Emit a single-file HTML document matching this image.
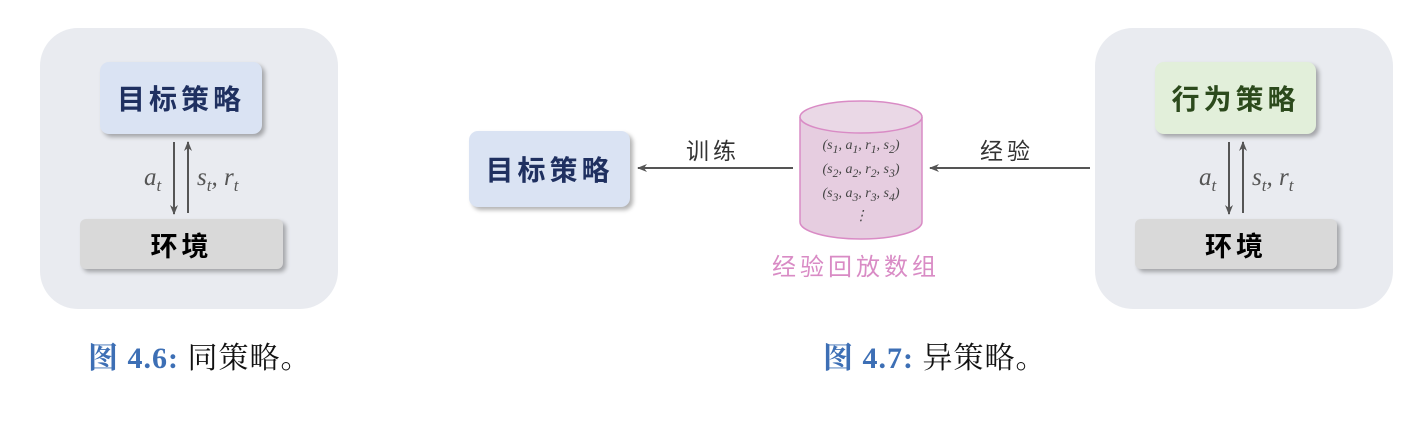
<!DOCTYPE html>
<html><head><meta charset="utf-8"><style>
body{margin:0;width:1423px;height:431px;background:#fff;position:relative;overflow:hidden;font-family:"Liberation Serif","Noto Serif CJK SC",serif}
.a{position:absolute}
.panel{position:absolute;background:#e9ebf0;border-radius:38px}
.box{position:absolute;border-radius:9px;display:flex;align-items:center;justify-content:center;font-family:"Noto Sans CJK SC",sans-serif;font-weight:bold;box-shadow:3px 3px 4px rgba(0,0,0,.3)}
.m{font-family:"Liberation Serif",serif;font-style:italic;color:#555;font-size:25px}
.cap{position:absolute;font-size:30px;color:#111;font-family:"Liberation Serif","Noto Serif CJK SC",serif;letter-spacing:1px}
.cap b{color:#3d6fb5}
</style></head><body>
<div class="panel" style="left:40px;top:28px;width:298px;height:281px"></div>
<div class="panel" style="left:1095px;top:28px;width:298px;height:281px"></div>

<div class="box" style="left:100px;top:62px;width:162px;height:72px;background:#dae3f3;color:#1f3060;font-size:28px;letter-spacing:4px">目标策略</div>
<div class="box" style="left:80px;top:219px;width:203px;height:50px;background:#d9d9d9;color:#000;font-size:27px;letter-spacing:4px;border-radius:6px">环境</div>
<div class="box" style="left:1155px;top:62px;width:161px;height:72px;background:#e2efda;color:#2c4a1c;font-size:28px;letter-spacing:4px">行为策略</div>
<div class="box" style="left:1135px;top:219px;width:202px;height:50px;background:#d9d9d9;color:#000;font-size:27px;letter-spacing:4px;border-radius:6px">环境</div>
<div class="box" style="left:469px;top:131px;width:161px;height:76px;background:#dae3f3;color:#1f3060;font-size:28px;letter-spacing:4px">目标策略</div>

<svg class="a" style="left:0;top:0" width="1423" height="431">
<defs><marker id="ar" markerWidth="10" markerHeight="8" refX="9" refY="4" orient="auto" markerUnits="userSpaceOnUse"><path d="M0,0 L10,4 L0,8 L3,4z" fill="#555"/></marker></defs>
<g stroke="#555" stroke-width="2" marker-end="url(#ar)">
<line x1="174" y1="142" x2="174" y2="214"/><line x1="188" y1="213" x2="188" y2="142"/>
<line x1="1229" y1="142" x2="1229" y2="214"/><line x1="1243" y1="213" x2="1243" y2="142"/>
<line x1="793" y1="168" x2="638" y2="168"/><line x1="1090" y1="168" x2="930" y2="168"/>
</g>
<path d="M800,117 L800,222 A61,17 0 0 0 922,222 L922,117" fill="#e6cde0" stroke="#d98bc5" stroke-width="1.5"/>
<ellipse cx="861" cy="117" rx="61" ry="16" fill="#ead8e6" stroke="#d98bc5" stroke-width="1.5"/>
</svg>

<div class="a m" style="left:144px;top:164px">a<sub style="font-size:17px">t</sub></div>
<div class="a m" style="left:197px;top:164px">s<sub style="font-size:17px">t</sub>, r<sub style="font-size:17px">t</sub></div>
<div class="a m" style="left:1199px;top:164px">a<sub style="font-size:17px">t</sub></div>
<div class="a m" style="left:1252px;top:164px">s<sub style="font-size:17px">t</sub>, r<sub style="font-size:17px">t</sub></div>

<div class="a" style="left:686px;top:132px;font-family:'Noto Sans CJK SC',sans-serif;font-size:23px;color:#333;letter-spacing:4px">训练</div>
<div class="a" style="left:980px;top:132px;font-family:'Noto Sans CJK SC',sans-serif;font-size:23px;color:#333;letter-spacing:4px">经验</div>
<div class="a" style="left:796px;top:136px;width:130px;text-align:center;font-style:italic;font-size:14px;color:#444;line-height:20px">(s<sub>1</sub>, a<sub>1</sub>, r<sub>1</sub>, s<sub>2</sub>)<br>(s<sub>2</sub>, a<sub>2</sub>, r<sub>2</sub>, s<sub>3</sub>)<br>(s<sub>3</sub>, a<sub>3</sub>, r<sub>3</sub>, s<sub>4</sub>)<br>⋮</div>
<div class="a" style="left:772px;top:247px;font-family:'Noto Sans CJK SC',sans-serif;font-size:24px;color:#d98bc5;letter-spacing:4px">经验回放数组</div>

<div class="cap" style="left:88px;top:333px"><b>图 4.6:</b> 同策略。</div>
<div class="cap" style="left:823px;top:333px"><b>图 4.7:</b> 异策略。</div>
</body></html>
